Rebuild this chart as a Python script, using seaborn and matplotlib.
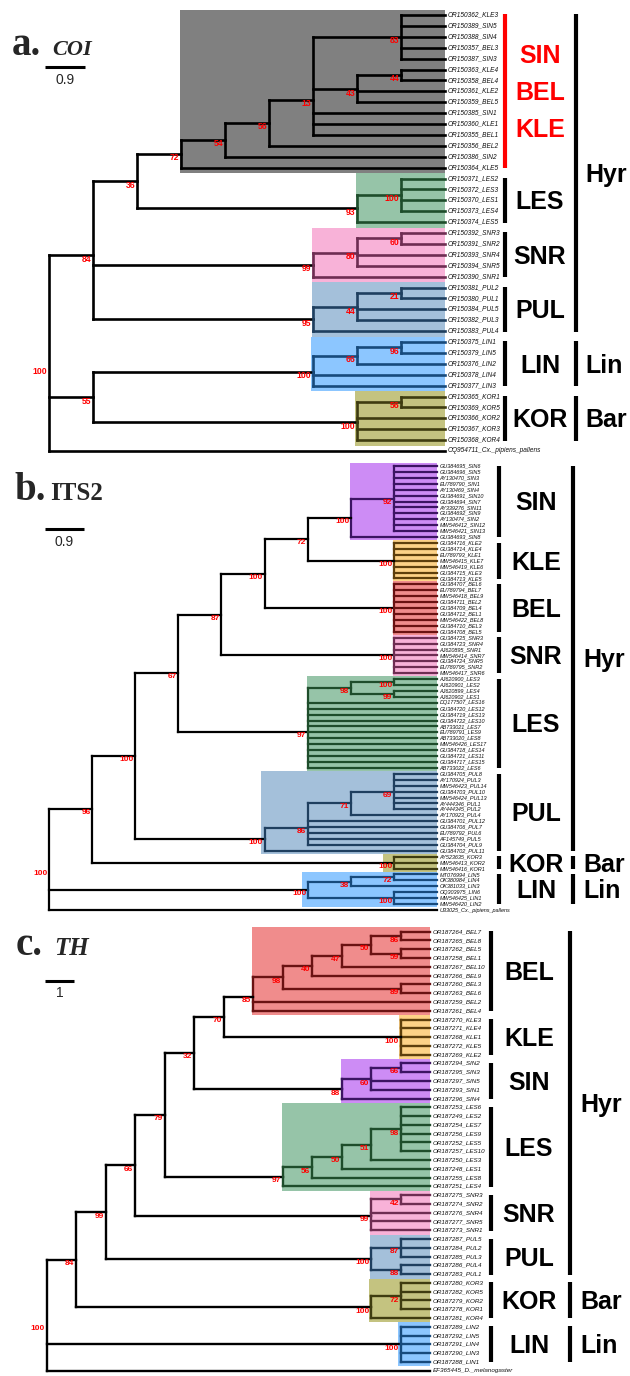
import numpy as np
import pandas as pd
import matplotlib
matplotlib.use("Agg")
import matplotlib.pyplot as plt
from matplotlib.patches import Rectangle
import seaborn as sns

# ============================ DATA ============================
# Trees are nested (bootstrap, [children]) or (bootstrap, [children], depth);
# leaves are tip labels.
# ---------- panel a: COI ----------
A_SBK = (72, [(54, [(56, [(13, [(83, ["OR150362_KLE3", "OR150389_SIN5", "OR150388_SIN4",
                                       "OR150357_BEL3", "OR150387_SIN3"]),
                                (43, [(44, ["OR150363_KLE4", "OR150358_BEL4"]),
                                      "OR150361_KLE2", "OR150359_BEL5"]),
                                "OR150385_SIN1", "OR150360_KLE1", "OR150355_BEL1"]),
                          "OR150356_BEL2"]),
                    "OR150386_SIN2"]),
              "OR150364_KLE5"])
A_LES = (93, [(100, ["OR150371_LES2", "OR150372_LES3", "OR150370_LES1", "OR150373_LES4"]),
              "OR150374_LES5"])
A_SNR = (99, [(80, [(60, ["OR150392_SNR3", "OR150391_SNR2"]), "OR150393_SNR4", "OR150394_SNR5"]),
              "OR150390_SNR1"])
A_PUL = (95, [(44, [(21, ["OR150381_PUL2", "OR150380_PUL1"]), "OR150384_PUL5", "OR150382_PUL3"]),
              "OR150383_PUL4"])
A_LIN = (100, [(66, [(96, ["OR150375_LIN1", "OR150379_LIN5"]), "OR150376_LIN2"]),
               "OR150378_LIN4", "OR150377_LIN3"])
A_KOR = (100, [(56, ["OR150365_KOR1", "OR150369_KOR5"]), "OR150366_KOR2", "OR150367_KOR3",
               "OR150368_KOR4"])
A_OUT = "OQ954711_Cx._pipiens_pallens"
A_TREE = (100, [(84, [(36, [A_SBK, A_LES]), A_SNR, A_PUL]), (55, [A_LIN, A_KOR], 8), A_OUT])
A_CLADES = [A_SBK, A_LES, A_SNR, A_PUL, A_LIN, A_KOR]
A_CLADE_STYLE = ["GREY", "LES", "SNR", "PUL", "LIN", "KOR"]
A_CLADE_LABELS = [["SIN", "BEL", "KLE"], ["LES"], ["SNR"], ["PUL"], ["LIN"], ["KOR"]]
A_LABEL_COLORS = ["#ff0000", "black", "black", "black", "black", "black"]
A_GROUPS = [("Hyr", 0, 3), ("Lin", 4, 4), ("Bar", 5, 5)]

# ---------- panel b: ITS2 ----------
B_SIN = (100, [(92, ["GU384695_SIN6", "GU384696_SIN5", "AY130470_SIN3", "EU789790_SIN1",
                     "AY130469_SIN4", "GU384691_SIN10", "GU384694_SIN7", "AY339276_SIN11",
                     "GU384692_SIN9", "AY130474_SIN2", "MW546412_SIN12", "MW546421_SIN13"]),
               "GU384693_SIN8"])
B_KLE = (100, ["GU384716_KLE2", "GU384714_KLE4", "EU789793_KLE1", "MW546415_KLE7",
               "MW546419_KLE6", "GU384715_KLE3", "GU384713_KLE5"])
B_BEL = (100, ["GU384707_BEL6", "EU789794_BEL7", "MW546418_BEL9", "GU384711_BEL2",
               "GU384709_BEL4", "GU384712_BEL1", "MW546422_BEL8", "GU384710_BEL3",
               "GU384708_BEL5"])
B_SNR = (100, ["GU384725_SNR3", "GU384723_SNR4", "AJ620895_SNR1", "MW546414_SNR7",
               "GU384724_SNR5", "EU789795_SNR2", "MW546417_SNR6"])
B_LES = (97, [(98, [(100, ["AJ620900_LES3", "AJ620901_LES2"]),
                    (99, ["AJ620899_LES4", "AJ620902_LES1"])]),
              "DQ177507_LES16", "GU384720_LES12", "GU384719_LES13", "GU384722_LES10",
              "AB733021_LES7", "EU789791_LES9", "AB733020_LES8", "MW546426_LES17",
              "GU384718_LES14", "GU384721_LES11", "GU384717_LES15", "AB733022_LES6"])
B_PUL = (100, [(86, [(71, [(69, ["GU384705_PUL8", "AY170924_PUL3", "MW546423_PUL14",
                                 "GU384703_PUL10", "MW546424_PUL13", "AY444346_PUL1",
                                 "AY444345_PUL2"]),
                           "AY170923_PUL4"]),
                     "GU384701_PUL12", "GU384706_PUL7", "EU789792_PUL6", "AF145749_PUL5",
                     "GU384704_PUL9"]),
               "GU384702_PUL11"])
B_KOR = (100, ["AY523635_KOR3", "MW546413_KOR2", "MW546416_KOR1"])
B_LIN = (100, [(38, [(72, ["MT076994_LIN5", "OK380984_LIN4"]), "OK381033_LIN3"]),
               (100, ["OQ303975_LIN6", "MW546425_LIN1", "MW546420_LIN2"])])
B_OUT = "U33025_Cx._pipiens_pallens"
B_TREE = (100, [(96, [(100, [(67, [(87, [(100, [(72, [B_SIN, B_KLE]), B_BEL]), B_SNR]), B_LES]),
                             B_PUL]),
                      B_KOR]),
                B_LIN, B_OUT])
B_CLADES = [B_SIN, B_KLE, B_BEL, B_SNR, B_LES, B_PUL, B_KOR, B_LIN]
B_CLADE_STYLE = ["SIN", "KLE", "BEL", "SNR", "LES", "PUL", "KOR", "LIN"]
B_CLADE_LABELS = [["SIN"], ["KLE"], ["BEL"], ["SNR"], ["LES"], ["PUL"], ["KOR"], ["LIN"]]
B_LABEL_COLORS = ["black"] * 8
B_GROUPS = [("Hyr", 0, 5), ("Bar", 6, 6), ("Lin", 7, 7)]

# ---------- panel c: TH ----------
C_BEL = (85, [(98, [(40, [(47, [(50, [(86, ["OR187264_BEL7", "OR187265_BEL8"]),
                                      (59, ["OR187262_BEL5", "OR187258_BEL1"])]),
                                "OR187267_BEL10"]),
                          "OR187266_BEL9"]),
                    (89, ["OR187260_BEL3", "OR187263_BEL6"])]),
              "OR187259_BEL2", "OR187261_BEL4"])
C_KLE = (100, ["OR187270_KLE3", "OR187271_KLE4", "OR187268_KLE1", "OR187272_KLE5",
               "OR187269_KLE2"])
C_SIN = (88, [(60, [(66, ["OR187294_SIN2", "OR187295_SIN3"]), "OR187297_SIN5",
                    "OR187293_SIN1"]),
              "OR187296_SIN4"])
C_LES = (97, [(56, [(50, [(51, [(98, ["OR187253_LES6", "OR187249_LES2", "OR187254_LES7",
                                      "OR187256_LES9", "OR187252_LES5", "OR187257_LES10"]),
                                "OR187250_LES3"]),
                          "OR187248_LES1"]),
                    "OR187255_LES8"]),
              "OR187251_LES4"])
C_SNR = (99, [(42, ["OR187275_SNR3", "OR187274_SNR2"]), "OR187276_SNR4", "OR187277_SNR5",
              "OR187273_SNR1"])
C_PUL = (100, [(87, ["OR187287_PUL5", "OR187284_PUL2", "OR187285_PUL3"]),
               (88, ["OR187286_PUL4", "OR187283_PUL1"])])
C_KOR = (100, [(72, ["OR187280_KOR3", "OR187282_KOR5", "OR187279_KOR2", "OR187278_KOR1"]),
               "OR187281_KOR4"])
C_LIN = (100, ["OR187289_LIN2", "OR187292_LIN5", "OR187291_LIN4", "OR187290_LIN3",
               "OR187288_LIN1"])
C_OUT = "EF365445_D._melanogaster"
C_TREE = (100, [(84, [(99, [(66, [(79, [(32, [(70, [C_BEL, C_KLE]), C_SIN]), C_LES]), C_SNR]),
                            C_PUL]),
                      C_KOR]),
                C_LIN, C_OUT])
C_CLADES = [C_BEL, C_KLE, C_SIN, C_LES, C_SNR, C_PUL, C_KOR, C_LIN]
C_CLADE_STYLE = ["BEL", "KLE", "SIN", "LES", "SNR", "PUL", "KOR", "LIN"]
C_CLADE_LABELS = [["BEL"], ["KLE"], ["SIN"], ["LES"], ["SNR"], ["PUL"], ["KOR"], ["LIN"]]
C_LABEL_COLORS = ["black"] * 8
C_GROUPS = [("Hyr", 0, 5), ("Bar", 6, 6), ("Lin", 7, 7)]

# ============================ STYLE ============================
# (box fill, branch colour)
STYLE = {
    "GREY": ("#808080", "#000000"),
    "LES": ("#96c4a8", "#1e4d2b"),
    "SNR": ("#f8b2d8", "#6e2d52"),
    "PUL": ("#a4c0da", "#1f3f5f"),
    "LIN": ("#8cc6ff", "#174a7c"),
    "KOR": ("#c4c380", "#3f3c10"),
    "SIN": ("#cd8cf5", "#3c1463"),
    "KLE": ("#fdd287", "#5e3f0c"),
    "BEL": ("#f08c8c", "#6a1212"),
}

W, Hpx = 630, 1376
sns.set_theme(style="white")
plt.rcParams["font.family"] = ["Liberation Sans", "DejaVu Sans"]

fig = plt.figure(figsize=(W / 100, Hpx / 100), dpi=100)


def draw_panel(tree, clades, styles, clade_labels, label_colors, groups, P):
    ax = fig.add_axes([0, 0, 1, 1])
    ax.set_facecolor("none")
    tips, nodes = [], []

    def rec(n):
        if isinstance(n, str):
            tips.append(n)
            i = len(tips) - 1
            return dict(y=float(i), h=0, lo=i, hi=i, tip=True)
        bs, kids = n[0], n[1]
        ch = [rec(k) for k in kids]
        h = n[2] if len(n) > 2 else 1 + max(c["h"] for c in ch)
        d = dict(y=float(np.mean([c["y"] for c in ch])), h=h,
                 lo=min(c["lo"] for c in ch), hi=max(c["hi"] for c in ch),
                 bs=bs, kids=ch, tip=False, obj=n)
        nodes.append(d)
        return d

    root = rec(tree)
    Hh = root["h"]
    step, tipx, top, sp = P["step"], P["tip_px"], P["top"], P["sp"]
    root_px = tipx - Hh * step
    ax.set_xlim(-root_px / step, (W - root_px) / step)
    ax.set_ylim((Hpx - top) / sp, -top / sp)
    X = lambda px: (px - root_px) / step
    Y = lambda py: (py - top) / sp

    byobj = {id(d["obj"]): d for d in nodes}
    cidx = {id(c): i for i, c in enumerate(clades)}

    def paint(d, col):
        if d["tip"]:
            return
        if id(d["obj"]) in cidx:
            col = STYLE[styles[cidx[id(d["obj"])]]][1]
        d["col"] = col
        for c in d["kids"]:
            paint(c, col)

    paint(root, "#000000")

    rows, seg = [], 0
    for d in nodes:
        x = Hh - d["h"]
        ys = [c["y"] for c in d["kids"]]
        rows += [(seg, x, min(ys), d["col"]), (seg, x, max(ys), d["col"])]
        seg += 1
        for c in d["kids"]:
            rows += [(seg, x, c["y"], d["col"]), (seg, Hh - c["h"], c["y"], d["col"])]
            seg += 1
    df = pd.DataFrame(rows, columns=["seg", "x", "y", "col"])
    pal = {c: c for c in df["col"].unique()}
    sns.lineplot(data=df, x="x", y="y", units="seg", estimator=None, hue="col",
                 palette=pal, sort=False, legend=False, ax=ax,
                 linewidth=P["lw"], solid_capstyle="projecting", zorder=3)

    # clade boxes
    for i, c in enumerate(clades):
        d = byobj[id(c)]
        pad = P["pads"][i]
        x0 = X(tipx - d["h"] * step - pad)
        ax.add_patch(Rectangle((x0, d["lo"] - 0.5), Hh - x0, d["hi"] - d["lo"] + 1,
                               facecolor=STYLE[styles[i]][0], edgecolor="none", zorder=1))

    # tip labels
    for i, name in enumerate(tips):
        ax.text(X(tipx + 2.5), i, name, fontsize=P["tipfs"], style="italic",
                ha="left", va="center", color="#111111", zorder=4)

    # bootstrap values
    for d in nodes:
        xpx = tipx - d["h"] * step
        ax.text(X(xpx - 1.5), d["y"] + P["bs_dy"] / sp, str(d["bs"]), color="#ff0000",
                fontsize=P["bsfs"], fontweight="bold", ha="right", va="center", zorder=5)

    # clade brackets and labels
    cap = 0.716 * P["labfs"] * 100 / 72
    for i, c in enumerate(clades):
        d = byobj[id(c)]
        ax.plot([X(P["br_x"])] * 2, [d["lo"] - 0.05, d["hi"] + 0.05], color=label_colors[i],
                lw=3.0, solid_capstyle="butt")
        names = clade_labels[i]
        mid = (d["lo"] + d["hi"]) / 2
        n = len(names)
        for k, nm in enumerate(names):
            yc = mid + (k - (n - 1) / 2) * P["stack"] / sp
            ax.text(X(P["lab_cx"]), yc + cap / 2 / sp, nm, fontsize=P["labfs"],
                    fontweight="bold", color=label_colors[i], ha="center", va="baseline")
    for name, a, b in groups:
        lo = byobj[id(clades[a])]["lo"]
        hi = byobj[id(clades[b])]["hi"]
        ax.plot([X(P["big_x"])] * 2, [lo - 0.05, hi + 0.05], color="black", lw=3.0,
                solid_capstyle="butt")
        ax.text(X(P["big_tx"]), (lo + hi) / 2 + cap / 2 / sp, name, fontsize=P["labfs"],
                fontweight="bold", color="black", ha="left", va="baseline")

    # scale bar
    x0, x1, yb, lab, ylab = P["scale"]
    ax.plot([X(x0), X(x1)], [Y(yb), Y(yb)], color="black", lw=2.2, solid_capstyle="butt")
    ax.text(X((x0 + x1) / 2), Y(ylab), lab, fontsize=10, ha="center", va="center")

    # title
    (t1, tx1), (t2, tx2, st2), tyb = P["title"]
    fig.text(tx1 / W, 1 - tyb / Hpx, t1, fontsize=28, fontweight="bold",
             family=["Liberation Serif", "DejaVu Serif"], va="baseline")
    fig.text(tx2 / W, 1 - tyb / Hpx, t2, fontsize=P["subfs"], fontweight="bold", style=st2,
             family=["Liberation Serif", "DejaVu Serif"], va="baseline")
    ax.set_axis_off()
    return ax


PA = dict(tip_px=445, step=44.0, top=15.0, sp=10.9, lw=1.9, tipfs=4.7, bsfs=6.2, bs_dy=4,
          br_x=505, lab_cx=540, big_x=576, big_tx=585, labfs=18, stack=37,
          pads=[1, 1, 1, 1, 2, 2], scale=(45, 85, 67, "0.9", 80),
          title=(("a.", 12), ("COI", 52, "italic"), 55), subfs=16)
PB = dict(tip_px=437, step=43.1, top=466.0, sp=5.92, lw=1.6, tipfs=4.0, bsfs=6.0, bs_dy=3.5,
          br_x=499, lab_cx=536, big_x=573, big_tx=583, labfs=18, stack=0,
          pads=[1, 1, 1, 1, 1, 4, 11, 6], scale=(45, 84, 529, "0.9", 542),
          title=(("b.", 14), ("ITS2", 50, "normal"), 500), subfs=18)
PC = dict(tip_px=430, step=29.5, top=931.7, sp=8.78, lw=1.7, tipfs=4.5, bsfs=6.0, bs_dy=4,
          br_x=491, lab_cx=529, big_x=570, big_tx=580, labfs=18, stack=0,
          pads=[1, 2, 1, 1, 1, 1, 2, 3], scale=(45, 74, 981, "1", 993),
          title=(("c.", 16), ("TH", 54, "italic"), 955), subfs=18)

draw_panel(A_TREE, A_CLADES, A_CLADE_STYLE, A_CLADE_LABELS, A_LABEL_COLORS, A_GROUPS, PA)
draw_panel(B_TREE, B_CLADES, B_CLADE_STYLE, B_CLADE_LABELS, B_LABEL_COLORS, B_GROUPS, PB)
draw_panel(C_TREE, C_CLADES, C_CLADE_STYLE, C_CLADE_LABELS, C_LABEL_COLORS, C_GROUPS, PC)

fig.savefig("out.png", dpi=100, facecolor="white")
